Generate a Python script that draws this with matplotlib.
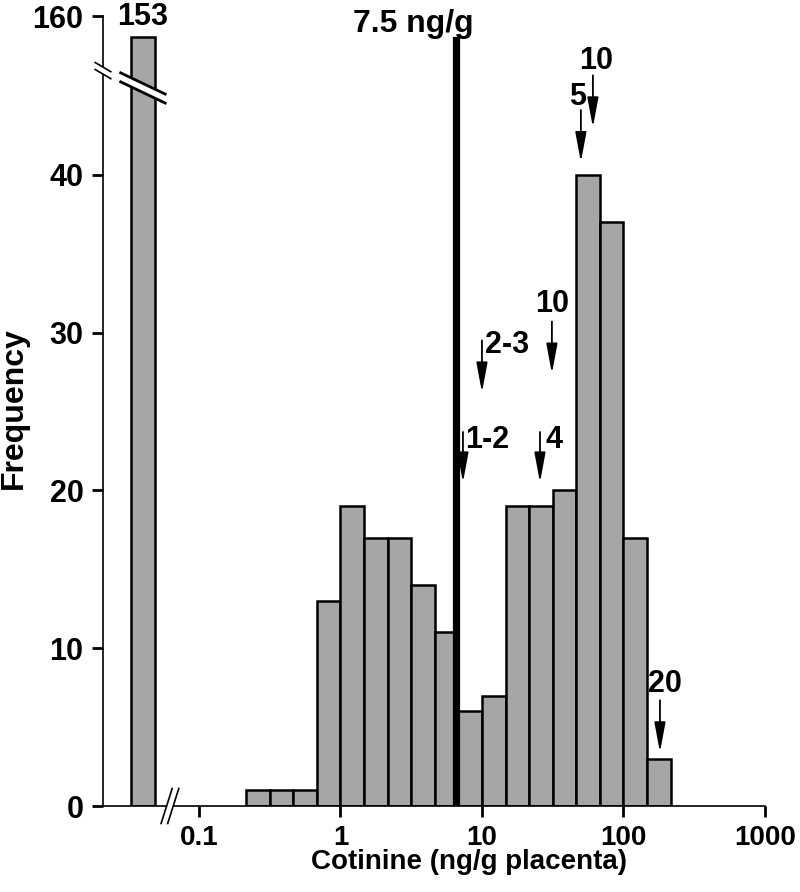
import numpy as np
import matplotlib
matplotlib.use("Agg")
import matplotlib.pyplot as plt
from matplotlib.transforms import ScaledTranslation

plt.rcParams["font.family"] = ["Liberation Sans", "DejaVu Sans"]
plt.rcParams["font.weight"] = "bold"

# Histogram bins: 6 per decade, edges at 10**(k/6), k = -4 .. 14
bin_k = np.arange(-4, 15)
counts = [1, 1, 1, 13, 19, 17, 17, 14, 11, 6, 7, 19, 19, 20, 40, 37, 17, 3]

# Non-detect bar drawn left of the axis break
nd_edges = [0.033, 0.049]
nd_count = 153

threshold_x = 6.6
threshold_label = "7.5 ng/g"

# arrows: (label, tip x, tip y, tail y, text x, text y, text alignment)
arrows = [
    ("1-2", 7.34, 20.5, 23.7, 7.6, 23.2, "left"),
    ("2-3", 10.0, 26.2, 29.5, 10.5, 29.2, "left"),
    ("4", 25.7, 20.5, 23.7, 27.9, 23.2, "left"),
    ("10", 31.2, 27.4, 30.7, 31.2, 31.8, "center"),
    ("5", 50.0, 40.8, 44.1, 47.3, 44.9, "center"),
    ("10", 60.8, 43.0, 46.3, 64.0, 47.2, "center"),
    ("20", 181.0, 3.4, 6.7, 196.0, 7.7, "center"),
]

xticks = [0.1, 1, 10, 100, 1000]
xtick_labels = ["0.1", "1", "10", "100", "1000"]
yticks = [0, 10, 20, 30, 40, 160]


def fwd(y):
    return np.interp(y, [-1000, 48, 150, 10000], [-1000, 48, 48.15, 48.15 + 9850 * 0.191])


def inv(y):
    return np.interp(y, [-1000, 48, 48.15, 48.15 + 9850 * 0.191], [-1000, 48, 150, 10000])


fig = plt.figure(figsize=(8, 8.92), dpi=100)
ax = fig.add_axes([103 / 800, 86 / 892, 662 / 800, 790 / 892])
ax.set_xscale("log")
ax.set_yscale("function", functions=(fwd, inv))

bar_style = dict(facecolor="#a6a6a6", edgecolor="black", linewidth=1.8, align="edge")
edges = 10.0 ** (bin_k / 6.0)
ax.bar(edges[:-1], counts, width=np.diff(edges), **bar_style)
ax.bar([nd_edges[0]], [nd_count], width=[nd_edges[1] - nd_edges[0]], **bar_style)

ax.set_xlim(0.021, 1000)
ax.set_ylim(0, 160)

# threshold line
ax.axvline(threshold_x, ymin=0, ymax=0.97, color="black", linewidth=5.2)
ax.text(3.25, 0.990, threshold_label, transform=ax.get_xaxis_transform(),
        ha="center", va="center", fontsize=23, fontweight="bold")

ax.annotate(str(nd_count), xy=(np.sqrt(nd_edges[0] * nd_edges[1]), nd_count),
            xytext=(0, 4), textcoords="offset points", ha="center", va="bottom",
            fontsize=22, fontweight="bold")

for label, tx, ty, tail, lx, ly, ha in arrows:
    ax.annotate("", xy=(tx, ty), xytext=(tx, tail),
                arrowprops=dict(arrowstyle="-|>,head_length=1.4,head_width=0.26",
                                mutation_scale=13, lw=1.3, color="black",
                                shrinkA=0, shrinkB=0))
    ax.text(lx, ly, label, ha=ha, va="center", fontsize=22, fontweight="bold")

ax.set_xticks(xticks)
ax.set_xticklabels(xtick_labels)
ax.xaxis.set_minor_locator(plt.NullLocator())
ax.set_yticks(yticks)
ax.set_yticklabels([str(v) for v in yticks])
ax.yaxis.set_minor_locator(plt.NullLocator())
ax.tick_params(axis="both", direction="out", length=8, width=2, pad=6)
ax.tick_params(axis="x", labelsize=20)
ax.tick_params(axis="y", labelsize=22)

for side in ["top", "right"]:
    ax.spines[side].set_visible(False)
for side in ["left", "bottom"]:
    ax.spines[side].set_linewidth(1.2)

ax.set_xlabel("Cotinine (ng/g placenta)", fontsize=20, fontweight="bold")
ax.set_ylabel("Frequency", fontsize=23, fontweight="bold")
ax.xaxis.set_label_coords(0.553, -0.0544)
ax.yaxis.set_label_coords(-0.112, 0.504)


def draw_break(x, y, base, half, offset, lw):
    # two parallel strokes with a white band between them; sizes in pixels
    trans = fig.dpi_scale_trans + ScaledTranslation(x, y, base)
    ux, uy = half[0] / 100, half[1] / 100
    ox, oy = offset[0] / 100, offset[1] / 100
    l1 = [(-ux + ox, -uy + oy), (ux + ox, uy + oy)]
    l2 = [(-ux - ox, -uy - oy), (ux - ox, uy - oy)]
    poly = plt.Polygon(l1 + l2[::-1], closed=True, facecolor="white",
                       edgecolor="none", transform=trans, clip_on=False, zorder=5)
    ax.add_patch(poly)
    for ln in (l1, l2):
        ax.plot([p[0] for p in ln], [p[1] for p in ln], color="black", lw=lw,
                transform=trans, clip_on=False, zorder=6, solid_capstyle="butt")


draw_break(0, 46.6, ax.get_yaxis_transform(), (8.5, -5), (0, 3.5), 1.2)
draw_break(np.sqrt(nd_edges[0] * nd_edges[1]), 45.5, ax.transData, (23.5, -11.2), (0, 4.5), 2.0)
draw_break(0.0624, 0, ax.get_xaxis_transform(), (5.8, 18.3), (3.3, 0), 1.2)

fig.savefig("out.png", dpi=100)
